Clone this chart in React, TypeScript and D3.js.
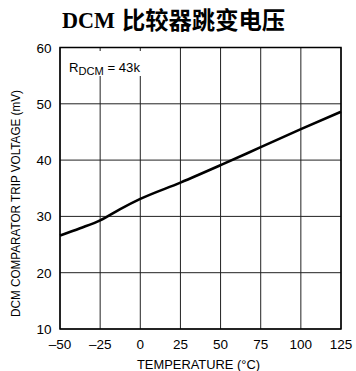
import React from "react";
import * as d3 from "d3";

// Trip voltage vs. temperature
const temps = [-50, -37.5, -25, -12.5, 0, 25, 50, 75, 100, 125];
const tripMv = [26.6, 27.9, 29.3, 31.3, 33.1, 36.0, 39.1, 42.3, 45.5, 48.6];
const xTicks = [-50, -25, 0, 25, 50, 75, 100, 125];
const yTicks = [10, 20, 30, 40, 50, 60];

const W = 356;
const H = 371;
const M = { left: 60, right: 341, top: 47.5, bottom: 329 };
const FONT = "'Liberation Sans', Arial, sans-serif";

export default function App() {
  const x = d3.scaleLinear().domain([-50, 125]).range([M.left, M.right]);
  const y = d3.scaleLinear().domain([10, 60]).range([M.bottom, M.top]);
  const pts = temps.map((t, i) => [t, tripMv[i]] as [number, number]);
  const line = d3
    .line<[number, number]>()
    .x((d) => x(d[0]))
    .y((d) => y(d[1]))
    .curve(d3.curveMonotoneX);
  const fmt = (v: number) => (v < 0 ? "\u2013" + Math.abs(v) : String(v));

  return (
    <svg
      width={W}
      height={H}
      style={{ position: "absolute", left: 0, top: 0, background: "#fff" }}
    >
      <text
        x={62}
        y={28}
        fontWeight="bold"
        fontSize={22.5}
        fontFamily="'Liberation Serif', serif"
        textLength={53}
        lengthAdjust="spacingAndGlyphs"
      >
        DCM
      </text>
      <text
        x={122}
        y={29}
        fontWeight="bold"
        fontSize={23.5}
        fontFamily="'Noto Sans CJK SC', sans-serif"
        textLength={163}
        lengthAdjust="spacingAndGlyphs"
      >
        比较器跳变电压
      </text>

      {/* grid */}
      {xTicks.map((t) => (
        <line key={"gx" + t} x1={x(t)} x2={x(t)} y1={M.top} y2={M.bottom} stroke="#222" strokeWidth={1} />
      ))}
      {yTicks.map((t) => (
        <line key={"gy" + t} x1={M.left} x2={M.right} y1={y(t)} y2={y(t)} stroke="#222" strokeWidth={1} />
      ))}

      {/* legend label box */}
      <rect x={M.left + 1} y={51} width={86} height={25} fill="#fff" />
      <text x={69} y={72} fontSize={13} fontFamily={FONT} textLength={71} lengthAdjust="spacingAndGlyphs">
        R<tspan fontSize={11} dy={3}>DCM</tspan>
        <tspan dy={-3}> = 43k</tspan>
      </text>

      <rect
        x={M.left}
        y={M.top}
        width={M.right - M.left}
        height={M.bottom - M.top}
        fill="none"
        stroke="#000"
        strokeWidth={1.5}
      />

      <path d={line(pts) ?? ""} fill="none" stroke="#000" strokeWidth={2.6} strokeLinejoin="round" />

      {/* y tick labels */}
      {yTicks.map((t) => (
        <text key={"yl" + t} x={51.5} y={y(t) + 5} textAnchor="end" fontSize={13.5} fontFamily={FONT}>
          {t}
        </text>
      ))}
      {/* x tick labels */}
      {xTicks.map((t) => (
        <text key={"xl" + t} x={x(t)} y={349} textAnchor="middle" fontSize={13.5} fontFamily={FONT}>
          {fmt(t)}
        </text>
      ))}

      <text
        x={198.5}
        y={369}
        textAnchor="middle"
        fontSize={13}
        fontFamily={FONT}
        textLength={123}
        lengthAdjust="spacingAndGlyphs"
      >
        TEMPERATURE (°C)
      </text>
      <text
        transform={`translate(19.5, 203.5) rotate(-90)`}
        textAnchor="middle"
        fontSize={13}
        fontFamily={FONT}
        textLength={227}
        lengthAdjust="spacingAndGlyphs"
      >
        DCM COMPARATOR TRIP VOLTAGE (mV)
      </text>
    </svg>
  );
}
